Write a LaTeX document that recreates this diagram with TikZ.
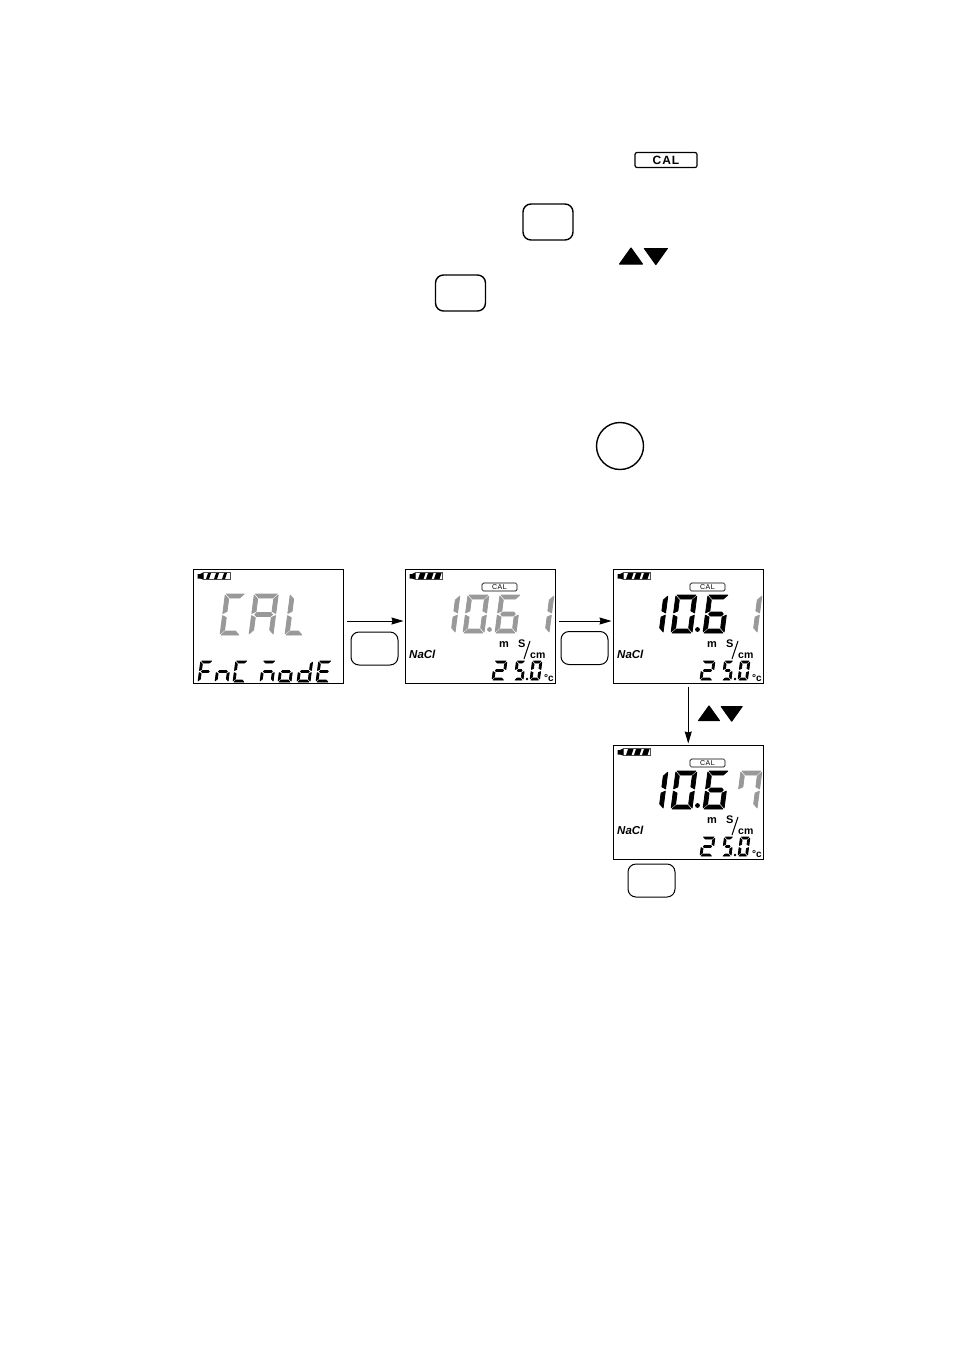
\documentclass[tikz,border=0pt]{standalone}
\usepackage{fontspec}
\setmainfont{Liberation Sans}
\newfontfamily\keyfont[LetterSpace=8]{Liberation Sans}
\usetikzlibrary{arrows.meta}

\definecolor{lcdgrey}{gray}{0.6}

% seven segments, origin at the lower left corner of a digit
\newcommand{\lcdsega}{(\G,\H) -- ({\W-\G},\H) -- ({\W-\T-\G},{\H-\T}) -- ({\T+\G},{\H-\T}) -- cycle}
\newcommand{\lcdsegb}{(\W,{\H-\G}) -- (\W,{\H/2+\G}) -- ({\W-\T},{\H/2+\T/2+\G}) -- ({\W-\T},{\H-\T-\G}) -- cycle}
\newcommand{\lcdsegc}{(\W,\G) -- (\W,{\H/2-\G}) -- ({\W-\T},{\H/2-\T/2-\G}) -- ({\W-\T},{\T+\G}) -- cycle}
\newcommand{\lcdsegd}{(\G,0) -- ({\W-\G},0) -- ({\W-\T-\G},\T) -- ({\T+\G},\T) -- cycle}
\newcommand{\lcdsege}{(0,\G) -- (0,{\H/2-\G}) -- (\T,{\H/2-\T/2-\G}) -- (\T,{\T+\G}) -- cycle}
\newcommand{\lcdsegf}{(0,{\H-\G}) -- (0,{\H/2+\G}) -- (\T,{\H/2+\T/2+\G}) -- (\T,{\H-\T-\G}) -- cycle}
\newcommand{\lcdsegg}{({\T/2+\G},{\H/2}) -- ({\T+\G},{\H/2+\T/2}) -- ({\W-\T-\G},{\H/2+\T/2}) -- ({\W-\T/2-\G},{\H/2}) -- ({\W-\T-\G},{\H/2-\T/2}) -- ({\T+\G},{\H/2-\T/2}) -- cycle}

% position, width, height, thickness, colour, segments
\newcommand{\lcddigit}[6]{
  \begin{scope}[shift={(#1)},x=1pt,y=1pt,xslant=0.13]
    \def\W{#2}\def\H{#3}\def\T{#4}\def\G{1.1}
    \foreach \s in {#6} {
      \expandafter\let\expandafter\segpath\csname lcdseg\s\endcsname
      \filldraw[#5,line width=0.8pt,line join=round] \segpath;
    }
  \end{scope}
}

% name, left, top, width of the battery bars
\newcommand{\lcdframe}[4]{
  \node[lcdbox] (#1) at (#2,#3) {};
  \begin{scope}[shift={(#2,#3)}]
    \fill (4.5,5) -- (7,5) -- (10,3.5) -- (10,10.5) -- (7,9.5) -- (4.5,9.5) -- cycle;
    \draw[black!70,line width=1pt] (10,3.5) rectangle (37.5,10.5);
    \foreach \bar in {13,21,29}
      \fill (\bar,10) -- ++(#4,0) -- ++(2,-6) -- ++(-#4,0) -- cycle;
  \end{scope}
}

% name, left, top, colour of 10.6, colour of last digit, its segments
\newcommand{\measscreen}[6]{
  \lcdframe{#1}{#2}{#3}{5.5}
  \begin{scope}[shift={(#2,#3)}]
    \node[tagkey] (#1tag) at (94.5,18) {CAL};
    \lcddigit{29,64}{21}{38}{4}{#4}{b,c}
    \lcddigit{58,64}{21}{38}{4}{#4}{a,b,c,d,e,f}
    \fill[#4] (84.5,60.5) circle (2.4);
    \lcddigit{90,64}{21}{38}{4}{#4}{a,c,d,e,f,g}
    \lcddigit{123,64}{21}{38}{4}{#5}{#6}
    \node[unitlabel,font=\bfseries\itshape\fontsize{11.5}{12}\selectfont] (#1salt) at (4,89) {NaCl};
    \node[unitlabel,font=\bfseries\fontsize{11}{12}\selectfont] (#1milli) at (94,78) {m};
    \node[unitlabel,font=\bfseries\fontsize{11}{12}\selectfont] (#1siemens) at (113,78) {S};
    \draw[line width=1pt] (119,90) -- (125,72);
    \node[unitlabel,font=\bfseries\fontsize{10.5}{12}\selectfont] (#1cm) at (125,89) {cm};
    \lcddigit{87,111}{12.5}{19}{2}{black}{a,b,g,e,d}
    \lcddigit{109,111}{9}{19}{2}{black}{a,f,g,c,d}
    \fill (122,110) circle (1.3);
    \lcddigit{125,111}{9.5}{19}{2}{black}{a,b,c,d,e,f}
    \node[unitlabel,font=\bfseries\fontsize{10}{12}\selectfont] (#1degree) at (139,112) {\textdegree c};
  \end{scope}
}

\newcommand{\updownkeys}[3]{
  \filldraw[line width=1pt,line join=round] (#1+0.5,#2+#3*0.72-0.5) -- ++(#3*0.5,-#3*0.7) -- ++(#3*0.5,#3*0.7) -- cycle;
  \filldraw[line width=1pt,line join=round] (#1+#3*1.08+0.5,#2+0.5) -- ++(#3*1,0) -- ++(-#3*0.5,#3*0.7) -- cycle;
}

\tikzset{
  lcdbox/.style={draw,line width=1pt,anchor=north west,minimum width=150.5pt,minimum height=114pt,inner sep=0pt,outer sep=0pt},
  tagkey/.style={draw,line width=0.7pt,rounded corners=1.5pt,minimum width=35pt,minimum height=8pt,inner sep=0pt,font=\fontsize{7}{8}\selectfont\keyfont},
  unitlabel/.style={anchor=base west,inner sep=0pt},
  softkey/.style={draw,line width=1pt,rounded corners=8pt,minimum width=47pt,minimum height=33pt,inner sep=0pt},
  softkeytop/.style={softkey,line width=1.4pt,minimum width=50pt,minimum height=36pt},
  modekey/.style={draw,line width=1.2pt,rounded corners=2pt,minimum width=62pt,minimum height=15pt,inner sep=0pt,font=\bfseries\fontsize{12}{12}\selectfont\keyfont},
  flow/.style={-{Stealth[length=12pt,width=7pt,inset=1pt]},line width=0.8pt}
}

\begin{document}
\begin{tikzpicture}[x=1pt,y=-1pt]
  \useasboundingbox (0,0) rectangle (954,1352);

  \node[modekey] (calkey) at (666,160) {CAL};
  \node[softkeytop] (firstkey) at (548,222) {};
  \node[softkeytop] (secondkey) at (460.5,293) {};
  \updownkeys{619}{248}{23}
  \node[draw,circle,line width=1.4pt,minimum size=47pt,inner sep=0pt] (roundkey) at (620,446) {};

  % first screen
  \lcdframe{calscreen}{193}{569}{3}
  \lcddigit{220,635}{20}{41}{4}{lcdgrey}{a,d,e,f}
  \lcddigit{249,635}{24}{41}{4}{lcdgrey}{a,b,c,e,f,g}
  \lcddigit{285,635}{18}{41}{4}{lcdgrey}{d,e,f}
  \lcddigit{198,682}{12}{21}{2}{black}{a,e,f,g}
  \lcddigit{215,682}{13}{21}{2}{black}{c,e,g}
  \lcddigit{233,682}{12}{21}{2}{black}{a,d,e,f}
  \lcddigit{260,682}{13}{21}{2}{black}{a,c,e,g}
  \lcddigit{278,682}{13}{21}{2}{black}{c,d,e,g}
  \lcddigit{297,682}{13}{21}{2}{black}{b,c,d,e,g}
  \lcddigit{316,682}{13}{21}{2}{black}{a,d,e,f,g}

  % readings
  \measscreen{condscreen}{405}{569}{lcdgrey}{lcdgrey}{b,c}
  \measscreen{unitscreen}{613}{569}{black}{lcdgrey}{b,c}
  \measscreen{trimscreen}{613}{745}{black}{lcdgrey}{a,b,c,f}

  \node[softkey] (enterkey) at (374.5,648.5) {};
  \node[softkey] (nextkey) at (584.5,648) {};
  \node[softkey] (savekey) at (651.5,880.5) {};
  \updownkeys{698}{706}{21}

  \foreach \from/\to in {calscreen/condscreen, condscreen/unitscreen}
    \draw[flow,shorten <=3.5pt,shorten >=1.5pt] ([yshift=5pt]\from.east) -- ([yshift=5pt]\to.west);
  \draw[flow,shorten <=4pt,shorten >=1.5pt] (unitscreen.south) -- (trimscreen.north);
\end{tikzpicture}
\end{document}
